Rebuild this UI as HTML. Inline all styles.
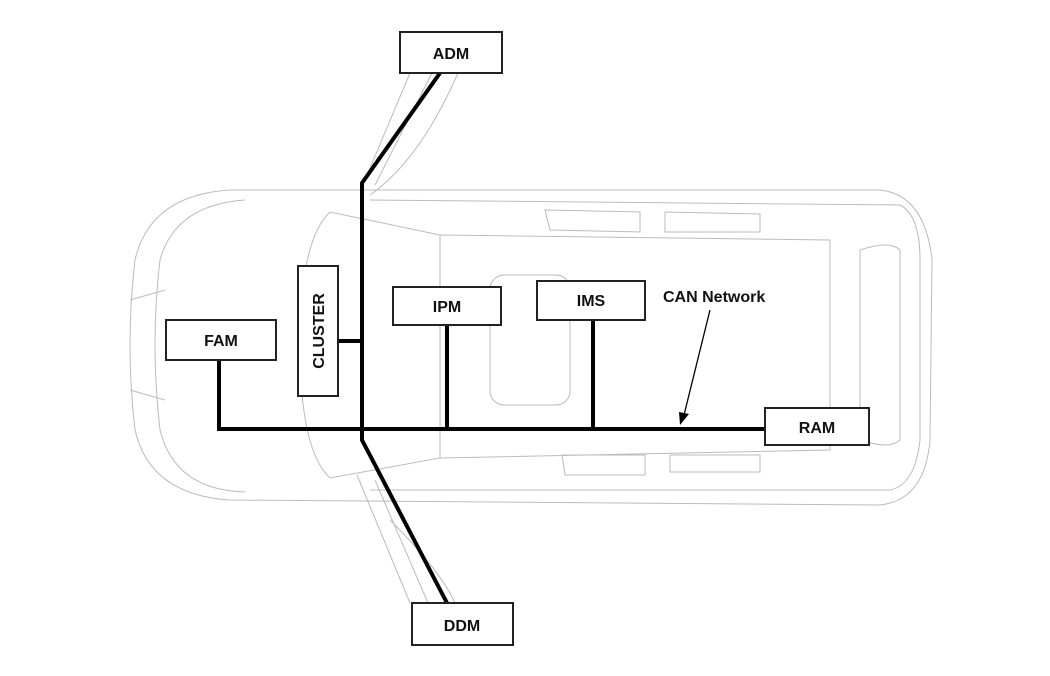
<!DOCTYPE html>
<html><head><meta charset="utf-8"><style>
body{margin:0;background:#fff}
svg{display:block}
text{font-family:"Liberation Sans",sans-serif;font-weight:bold;font-size:16px;fill:#111}
</style></head><body>
<svg width="1050" height="676" viewBox="0 0 1050 676" xmlns="http://www.w3.org/2000/svg">
<g fill="none" stroke="#bbb" stroke-width="1">
<path d="M230 190 Q150 195 135 260 Q125 345 135 430 Q150 495 230 500 L880 505 Q925 500 930 440 L932 260 Q925 195 880 190 Z"/>
<path d="M245 200 Q175 205 160 260 Q150 345 160 430 Q175 490 245 492"/>
<path d="M330 212 Q300 240 300 345 Q300 450 330 478 L440 458 L440 235 Z"/>
<path d="M440 235 L830 240 L830 450 L440 458"/>
<path d="M370 200 L900 205 Q920 215 920 260 L920 440 Q915 485 890 490 L370 490"/>
<rect x="490" y="275" width="80" height="130" rx="14"/>
<path d="M545 210 L640 212 L640 232 L550 230 Z"/>
<path d="M665 212 L760 214 L760 232 L665 232 Z"/>
<path d="M562 455 L645 455 L645 475 L565 475 Z"/>
<path d="M670 455 L760 455 L760 472 L670 472 Z"/>
<path d="M860 250 Q890 240 900 250 L900 440 Q890 450 860 440 Z"/>
<path d="M410 73 L365 180 M432 73 L375 185 M458 73 Q420 160 370 195"/>
<path d="M357 475 L410 603 M375 480 L428 603 M390 520 Q440 570 455 603"/>
<path d="M130 300 L165 290 M130 390 L165 400"/>
</g>
<g stroke="#000" stroke-width="4" fill="none">
<polyline points="440,73 362,183 362,440 447,603"/>
<polyline points="219,360 219,429 765,429"/>
<line x1="338" y1="341" x2="362" y2="341"/>
<line x1="447" y1="325" x2="447" y2="429"/>
<line x1="593" y1="320" x2="593" y2="429"/>
</g>
<line x1="710" y1="310" x2="684" y2="415" stroke="#000" stroke-width="1.3"/>
<polygon points="680,425 679,412 689,414" fill="#000"/>
<g fill="#fff" stroke="#222" stroke-width="2">
<rect x="400" y="32" width="102" height="41"/>
<rect x="298" y="266" width="40" height="130"/>
<rect x="166" y="320" width="110" height="40"/>
<rect x="393" y="287" width="108" height="38"/>
<rect x="537" y="281" width="108" height="39"/>
<rect x="765" y="408" width="104" height="37"/>
<rect x="412" y="603" width="101" height="42"/>
</g>
<text x="451" y="59" text-anchor="middle">ADM</text>
<text x="221" y="346" text-anchor="middle">FAM</text>
<text x="447" y="312" text-anchor="middle">IPM</text>
<text x="591" y="306" text-anchor="middle">IMS</text>
<text x="817" y="433" text-anchor="middle">RAM</text>
<text x="462" y="631" text-anchor="middle">DDM</text>
<text transform="translate(324,331) rotate(-90)" text-anchor="middle">CLUSTER</text>
<text x="663" y="302" font-size="15">CAN Network</text>
</svg>
</body></html>
